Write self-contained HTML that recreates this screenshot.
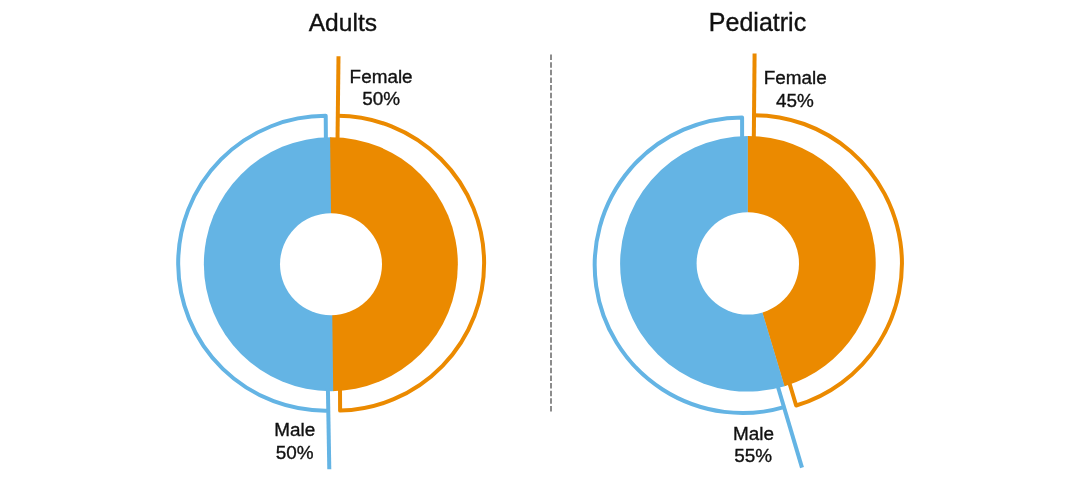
<!DOCTYPE html>
<html><head><meta charset="utf-8">
<style>
html,body{margin:0;padding:0;background:#fff;}
body{width:1080px;height:482px;position:relative;overflow:hidden;font-family:"Liberation Sans",sans-serif;}
svg{position:absolute;left:0;top:0;will-change:transform;}
</style></head><body>
<svg width="1080" height="482" viewBox="0 0 1080 482">
<defs><clipPath id="aL"><polygon points="327.763 -135.982 337.537 663.958 -62.433 668.845 -72.207 -131.096"/></clipPath><clipPath id="aR"><polygon points="326.763 -135.970 336.537 663.970 736.507 659.083 726.733 -140.857"/></clipPath></defs>
<circle cx="330.85" cy="264.2" r="127.0" fill="#64B4E4" clip-path="url(#aL)"/>
<circle cx="330.85" cy="264.2" r="127.0" fill="#EB8A00" clip-path="url(#aR)"/>
<circle cx="331.0" cy="264.2" r="51.0" fill="#fff"/>
<path d="M328.290 410.625 A147.4 147.4 0 1 1 325.719 115.850 L325.900 140.000" fill="none" stroke="#64B4E4" stroke-width="4.0" stroke-linejoin="round"/>
<path d="M327.900 388.000 L329.300 469.300" stroke="#64B4E4" stroke-width="4.0"/>
<path d="M337.788 115.854 A147.4 147.4 0 0 1 340.108 410.611 L340.000 388.000" fill="none" stroke="#EB8A00" stroke-width="4.0" stroke-linejoin="round"/>
<path d="M337.500 140.000 L338.500 56.200" stroke="#EB8A00" stroke-width="4.0"/>
<path d="M747.900 263.800 L784.625 386.210 A127.8 127.8 0 1 1 747.900 136.000 Z" fill="#64B4E4"/>
<path d="M747.900 263.800 L747.900 136.000 L749.100 136.000 L749.100 263.800 Z" fill="#64B4E4"/>
<path d="M747.900 263.800 L784.625 386.210 L785.774 385.865 L749.049 263.455 Z" fill="#64B4E4"/>
<path d="M747.900 263.800 L747.900 136.000 A127.8 127.8 0 0 1 784.625 386.210 Z" fill="#EB8A00"/>
<circle cx="747.8" cy="263.4" r="51.2" fill="#fff"/>
<path d="M783.971 407.063 A147.8 147.8 0 1 1 742.100 117.401 L742.100 140.000" fill="none" stroke="#64B4E4" stroke-width="4.0" stroke-linejoin="round"/>
<path d="M777.400 385.000 L802.000 467.600" stroke="#64B4E4" stroke-width="4.0"/>
<path d="M754.030 115.161 A148.3 148.3 0 0 1 796.160 405.534 L789.400 383.000" fill="none" stroke="#EB8A00" stroke-width="4.0" stroke-linejoin="round"/>
<path d="M753.800 140.000 L754.600 53.600" stroke="#EB8A00" stroke-width="4.0"/>
<line x1="551" y1="54.5" x2="551" y2="412.5" stroke="#8c8c8c" stroke-width="2" stroke-dasharray="5.5 2.14"/>
<g font-family="Liberation Sans, sans-serif" fill="#111" stroke="#111" stroke-width="0.35" text-anchor="middle">
<text x="342.9" y="30.8" font-size="24.6">Adults</text>
<text x="757.5" y="30.8" font-size="25.0">Pediatric</text>
<text x="381.1" y="82.6" font-size="18.9">Female</text>
<text x="381.1" y="105.4" font-size="18.9">50%</text>
<text x="294.8" y="436.2" font-size="18.9">Male</text>
<text x="294.6" y="458.8" font-size="18.9">50%</text>
<text x="795.2" y="84.3" font-size="18.9">Female</text>
<text x="795.0" y="107.1" font-size="18.9">45%</text>
<text x="753.6" y="439.6" font-size="18.9">Male</text>
<text x="753.2" y="462.4" font-size="18.9">55%</text>
</g>
</svg>
</body></html>
